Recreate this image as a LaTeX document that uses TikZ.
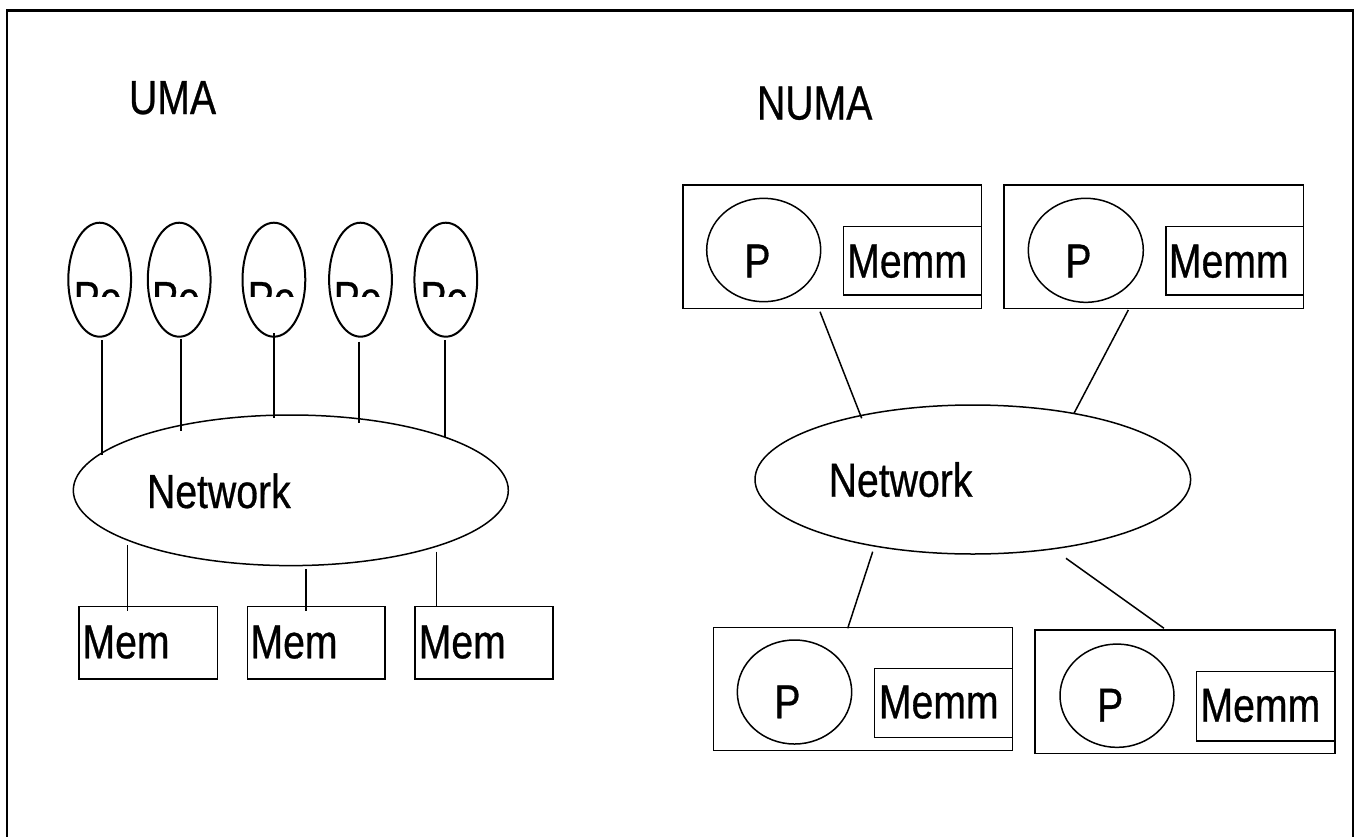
\documentclass[tikz,border=0pt]{standalone}
\usepackage{fontspec}
\setmainfont{Liberation Sans}[FakeStretch=0.82,FakeBold=0.6]
\usetikzlibrary{shapes.geometric}
\tikzset{
  box/.style={draw, rectangle, inner sep=0pt, outer sep=0pt, line width=1.5pt},
  oval/.style={draw, ellipse, inner sep=0pt, outer sep=0pt, line width=1.5pt},
  peoval/.style={oval, line width=2pt, minimum width=62.8pt, minimum height=114pt},
  lbl/.style={anchor=base west, inner sep=0pt, outer sep=0pt, font=\fontsize{47.8}{52}\selectfont},
  wire/.style={line width=1.5pt},
  thickwire/.style={line width=2pt},
  frame/.style={line width=2.2pt}
}
\begin{document}
\begin{tikzpicture}[x=1pt, y=-1pt]
\clip (0,0) rectangle (1360,836);
\fill[white] (0,0) rectangle (1360,836);
\draw[frame] (7,10.5) rectangle (1353.3,900);

% ---------------- UMA ----------------
\node[lbl] (uma) at (129,114) {UMA};

\node[peoval] (pe1) at (99.7,279.7) {};
\node[peoval] (pe2) at (179.2,279.7) {};
\node[peoval] (pe3) at (273.9,279.7) {};
\node[peoval] (pe4) at (360.5,279.7) {};
\node[peoval] (pe5) at (445.8,279.7) {};
\begin{scope}
  \clip (0,0) rectangle (1360,296.7);
  \node[lbl] (pe1t) at (73.7,315) {Pe};
  \node[lbl] (pe2t) at (152,315) {Pe};
  \node[lbl] (pe3t) at (247.7,315) {Pe};
  \node[lbl] (pe4t) at (333.7,315) {Pe};
  \node[lbl] (pe5t) at (420.3,315) {Pe};
\end{scope}

\node[oval, minimum width=435pt, minimum height=150.6pt] (netU) at (290.8,490.3) {};
\node[lbl] (netUt) at (147,508) {Network};

\node[box, minimum width=138.3pt, minimum height=72.3pt] (mem1) at (148.15,642.85) {};
\node[box, minimum width=137.7pt, minimum height=72.3pt] (mem2) at (316.15,642.85) {};
\node[box, minimum width=138pt, minimum height=72.3pt] (mem3) at (484,642.85) {};
\node[lbl] (mem1t) at (82.5,658.3) {Mem};
\node[lbl] (mem2t) at (250.5,658.3) {Mem};
\node[lbl] (mem3t) at (418.7,658.3) {Mem};

% processors to network
\draw[thickwire] (pe1.south) ++(2,3.3) -- ++(0,115);
\draw[thickwire] (pe2.south) ++(1.8,2.6) -- ++(0,91.4);
\draw[thickwire] (pe3.south) ++(0.4,-3.4) -- ++(0,85);
\draw[thickwire] (pe4.south) ++(-1.8,5) -- ++(0,81.6);
\draw[thickwire] (pe5.south) ++(-0.8,3.3) -- ++(0,96.7);

% network to memories
\draw[wire] (mem1.north) ++(-20.45,-61.7) -- ++(0,65.7);
\draw[wire] (mem2.north) ++(-10.15,-37.7) -- ++(0,41.7);
\draw[wire] (mem3.north) ++(-47.3,-55) -- ++(0,54);

% ---------------- NUMA ----------------
\node[lbl] (numa) at (757,119.5) {NUMA};

% top-left module
\node[box, minimum width=298.7pt, minimum height=123.3pt] (tl) at (832.35,246.65) {};
\node[oval, minimum width=114pt, minimum height=103.4pt] (tlp) at (763.7,250) {};
\node[box, minimum width=138.4pt, minimum height=68.3pt] (tlm) at (912.5,260.85) {};
\node[lbl] (tlpt) at (744.4,277.5) {P};
\node[lbl] (tlmt) at (847.2,277.5) {Memm};

% top-right module
\node[box, minimum width=299.3pt, minimum height=123.3pt] (tr) at (1153.65,246.65) {};
\node[oval, minimum width=115pt, minimum height=104pt] (trp) at (1085.8,250.3) {};
\node[box, minimum width=137.3pt, minimum height=68.3pt] (trm) at (1234.65,260.85) {};
\node[lbl] (trpt) at (1065.4,277.5) {P};
\node[lbl] (trmt) at (1168.9,277.5) {Memm};

% network
\node[oval, minimum width=435.6pt, minimum height=149pt] (netN) at (972.8,479.5) {};
\node[lbl] (netNt) at (828.7,496.7) {Network};

% bottom-left module
\node[box, minimum width=299pt, minimum height=123.4pt] (bl) at (862.8,689) {};
\node[oval, minimum width=114.4pt, minimum height=104pt] (blp) at (794.5,692) {};
\node[box, minimum width=138pt, minimum height=69pt] (blm) at (943.3,702.8) {};
\node[lbl] (blpt) at (774.4,718.3) {P};
\node[lbl] (blmt) at (878.9,718.3) {Memm};

% bottom-right module
\node[box, minimum width=300pt, minimum height=123.3pt] (br) at (1185,691.65) {};
\node[oval, minimum width=114pt, minimum height=103.3pt] (brp) at (1117,695.7) {};
\node[box, minimum width=138.3pt, minimum height=69.3pt] (brm) at (1265.85,706.35) {};
\node[lbl] (brpt) at (1097.1,721.7) {P};
\node[lbl] (brmt) at (1200.5,721.7) {Memm};

% connectors
\draw[wire] (tl.south) ++(-12.35,3.4) -- ++(41.7,106.6);
\draw[wire] (tr.south) ++(-25.35,1.7) -- ++(-54.3,103.3);
\draw[wire] (netN.south) ++(-100.1,-2.3) -- ++(-25,76.6);
\draw[wire] (netN.south) ++(93.2,4.3) -- ++(98,70);
\end{tikzpicture}
\end{document}
